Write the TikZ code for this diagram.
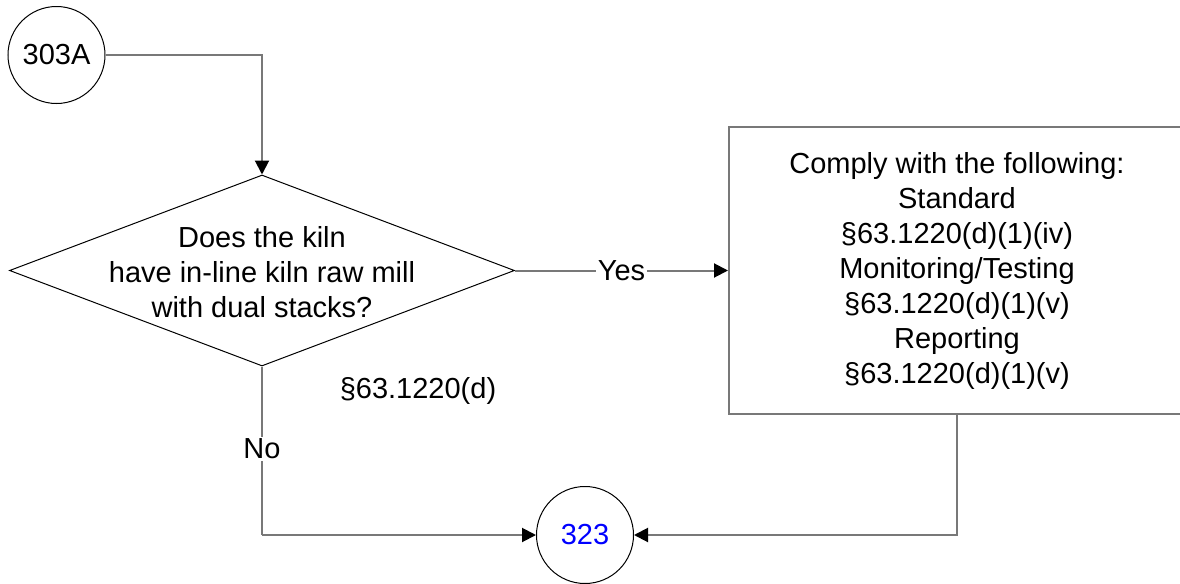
\documentclass[tikz,border=0pt]{standalone}
\usepackage{fontspec}
\setmainfont{Liberation Sans}
\usetikzlibrary{shapes.geometric,arrows.meta}
\definecolor{linegray}{RGB}{120,120,120}
\definecolor{refblue}{RGB}{0,0,255}
\begin{document}
\begin{tikzpicture}[x=0.5pt,y=-0.5pt,
  every node/.style={font=\fontsize{14.5}{17.5}\selectfont},
  conn/.style={draw=linegray,line width=1pt,-{Triangle[length=7pt,width=7pt,color=black]}},
  plainconn/.style={draw=linegray,line width=1pt},
  onconn/.style={fill=white,inner sep=1pt},
  connector/.style={circle,draw=black,line width=0.5pt,minimum size=48.5pt,inner sep=0pt},
  decision/.style={diamond,draw=black,line width=0.5pt,minimum width=252.5pt,minimum height=95.5pt,inner sep=0pt},
  actionbox/.style={rectangle,draw=linegray,line width=1pt,minimum width=228pt,minimum height=143.5pt,inner sep=0pt}]
\useasboundingbox (0,0) rectangle (1180,584);
\node[connector] (start) at (56.5,55) {303A};
\node[decision] (dec) at (262,270.5) {};
\node[align=center] (dectext) at (262,272) {Does the kiln\\have in-line kiln raw mill\\with dual stacks?};
\node[actionbox] (box) at (957,270.5) {};
\node[align=center] (boxtext) at (957,271) {Comply with the following:\\Standard\\§63.1220(d)(1)(iv)\\Monitoring/Testing\\§63.1220(d)(1)(v)\\Reporting\\§63.1220(d)(1)(v)};
\node[connector,text=refblue] (end) at (585,535) {323};
\node (ref) at (418,391) {§63.1220(d)};
\coordinate (c1) at (262,55);
\coordinate (c2) at (262,535);
\coordinate (c3) at (957,535);
\draw[conn] (start.east) -- (c1) -- (dec.north);
\draw[conn] (dec.east) -- node[onconn,pos=0.5] {Yes} (box.west);
\draw[plainconn] (dec.south) -- node[onconn,pos=0.49] {No} (c2);
\draw[conn] (c2) -- (end.west);
\draw[conn] (box.south -| c3) -- (c3) -- (end.east);
\end{tikzpicture}
\end{document}
